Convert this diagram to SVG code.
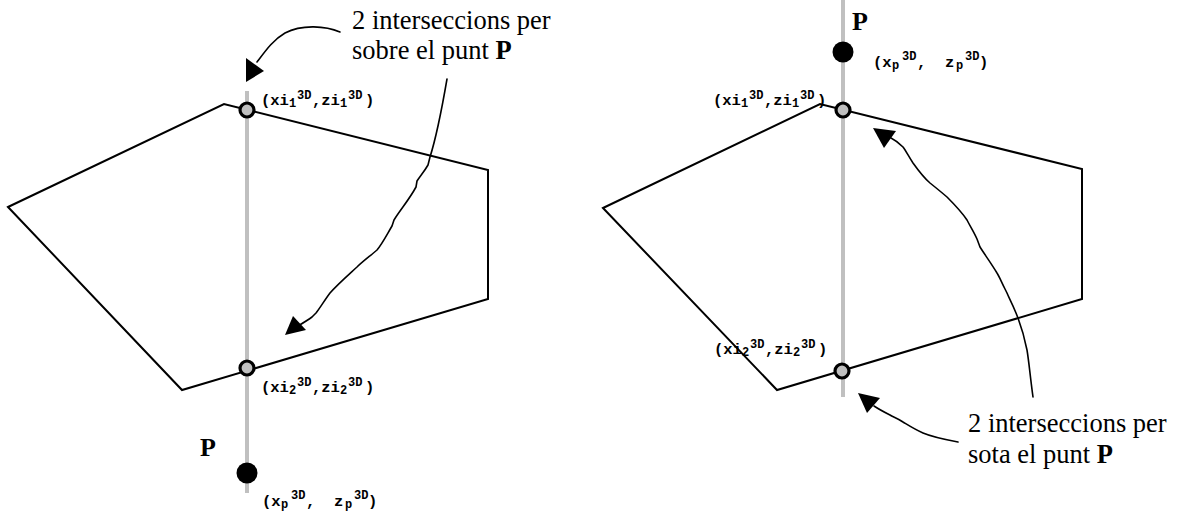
<svg xmlns="http://www.w3.org/2000/svg" width="1181" height="516" viewBox="0 0 1181 516">
<style>
.bg{fill:#fff}
.axis{stroke:#c0c0c0;stroke-width:4;fill:none}
.poly{stroke:#000;stroke-width:2;fill:none;stroke-linejoin:miter}
.ring{fill:#c0c0c0;stroke:#000;stroke-width:3.2}
.dot{fill:#000}
.wire{stroke:#000;stroke-width:1.6;fill:none;stroke-linejoin:round;stroke-linecap:round}
.head{fill:#000}
.ann{font-family:"Liberation Serif","Times New Roman",serif;font-size:26.5px;fill:#000}
.pb{font-family:"Liberation Serif","Times New Roman",serif;font-size:26px;font-weight:bold;fill:#000}
.lab{font-family:"Liberation Mono","Courier New",monospace;font-weight:bold;font-size:15.5px;fill:#000}
.s{font-size:12px}
</style>
<rect class="bg" x="0" y="0" width="1181" height="516"/>

<g id="left-figure">
  <line class="axis" x1="247" y1="91" x2="247" y2="493"/>
  <polygon class="poly" points="8,207 224,104 488,170 488,299 182,390"/>
</g>
<g id="right-figure">
  <line class="axis" x1="843" y1="0" x2="843" y2="397"/>
  <polygon class="poly" points="603,208 820,104 1082,169 1082,299 777,390"/>
</g>

<g id="connectors">
  <path class="wire" d="M340,32 C326,26 302,24 285,33 C273,40 266,50 257,62"/>
  <polygon class="head" points="246,58 264,71 246,82"/>
  <path class="wire" d="M447,79 C442,108 437,135 430,157 L428,165 C424,172 420,176 417,181 L416,187 C409,200 400,210 394,220 L392,226 C385,238 382,244 377,250 C370,256 362,262 357,267 C345,278 337,285 330,293 C324,301 320,308 316,313 L312,317 C308,320 303,323 298,326"/>
  <polygon class="head" points="293,316 306,330 285,335"/>
  <path class="wire" d="M1033,397 C1030,375 1029,362 1027,350 C1024,335 1021,326 1018,318 L1016,313 C1012,303 1009,298 1007,293 L1005,289 C1001,281 999,276 997,273 C991,263 985,255 980,247 L977,239 C974,232 970,226 967,220 C961,211 953,203 947,197 C940,191 935,187 930,183 C923,177 918,170 913,163 C909,157 906,151 903,147 C899,143 895,140 891,138"/>
  <polygon class="head" points="873,128 896,131 884,148"/>
  <path class="wire" d="M958,442 C942,439 930,436 923,433 C914,429 908,425 903,422 C897,418 893,417 890,415 C884,412 880,410 874,406"/>
  <polygon class="head" points="858,393 880,398 867,413"/>
</g>

<g id="intersection-1-left">
  <circle class="ring" cx="247" cy="110" r="7"/>
  <text class="lab"><tspan x="261" y="105">(xi</tspan><tspan class="s" x="289" y="107">1</tspan><tspan class="s" x="297" y="99">3D</tspan><tspan x="312" y="105">,zi</tspan><tspan class="s" x="340" y="107">1</tspan><tspan class="s" x="348" y="99">3D</tspan><tspan x="365" y="105">)</tspan></text>
</g>
<g id="intersection-2-left">
  <circle class="ring" cx="247" cy="368" r="7"/>
  <text class="lab"><tspan x="261" y="392">(xi</tspan><tspan class="s" x="289" y="394">2</tspan><tspan class="s" x="297" y="386">3D</tspan><tspan x="312" y="392">,zi</tspan><tspan class="s" x="340" y="394">2</tspan><tspan class="s" x="348" y="386">3D</tspan><tspan x="365" y="392">)</tspan></text>
</g>
<g id="point-P-left">
  <circle class="dot" cx="247" cy="473" r="10.5"/>
  <text class="pb" x="200" y="456">P</text>
  <text class="lab"><tspan x="262" y="506">(x</tspan><tspan class="s" x="281" y="508">p</tspan><tspan class="s" x="291" y="499">3D</tspan><tspan x="306" y="506" xml:space="preserve">,  z</tspan><tspan class="s" x="345" y="508">p</tspan><tspan class="s" x="354" y="499">3D</tspan><tspan x="368" y="506">)</tspan></text>
</g>
<g id="note-left">
  <text class="ann" x="352" y="29">2 interseccions per</text>
  <text class="ann" x="352" y="59">sobre el punt <tspan font-weight="bold">P</tspan></text>
</g>

<g id="point-P-right">
  <circle class="dot" cx="843" cy="52" r="10.5"/>
  <text class="pb" x="852" y="30">P</text>
  <text class="lab"><tspan x="873" y="67">(x</tspan><tspan class="s" x="892" y="69">p</tspan><tspan class="s" x="902" y="60">3D</tspan><tspan x="917" y="67" xml:space="preserve">,  z</tspan><tspan class="s" x="956" y="69">p</tspan><tspan class="s" x="965" y="60">3D</tspan><tspan x="979" y="67">)</tspan></text>
</g>
<g id="intersection-1-right">
  <circle class="ring" cx="843" cy="110" r="7"/>
  <text class="lab"><tspan x="713" y="105">(xi</tspan><tspan class="s" x="741" y="107">1</tspan><tspan class="s" x="749" y="99">3D</tspan><tspan x="764" y="105">,zi</tspan><tspan class="s" x="792" y="107">1</tspan><tspan class="s" x="800" y="99">3D</tspan><tspan x="817" y="105">)</tspan></text>
</g>
<g id="intersection-2-right">
  <circle class="ring" cx="842" cy="371" r="7"/>
  <text class="lab"><tspan x="714" y="354">(xi</tspan><tspan class="s" x="742" y="356">2</tspan><tspan class="s" x="750" y="348">3D</tspan><tspan x="765" y="354">,zi</tspan><tspan class="s" x="793" y="356">2</tspan><tspan class="s" x="801" y="348">3D</tspan><tspan x="818" y="354">)</tspan></text>
</g>
<g id="note-right">
  <text class="ann" x="968" y="432">2 interseccions per</text>
  <text class="ann" x="968" y="463">sota el punt <tspan font-weight="bold">P</tspan></text>
</g>
</svg>
